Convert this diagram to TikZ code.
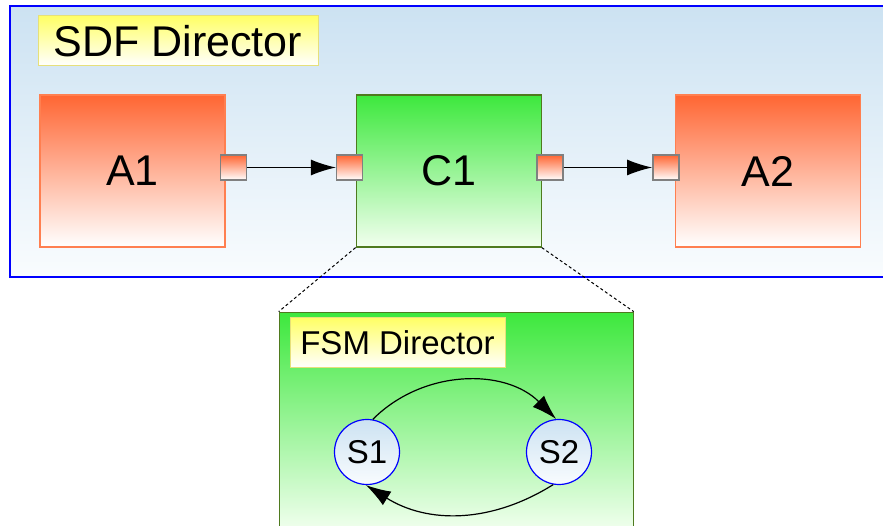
\documentclass[tikz,border=0pt]{standalone}
\usepackage{fontspec}
\setmainfont{Liberation Sans}
\usetikzlibrary{shapes, arrows.meta, calc, positioning}
\definecolor{sdfblue}{HTML}{0000FF}
\definecolor{sdftop}{HTML}{CCE2F2}
\definecolor{sdfbot}{HTML}{F9FCFE}
\definecolor{actortop}{HTML}{FF6633}
\definecolor{actorline}{HTML}{FF7F50}
\definecolor{comptop}{HTML}{3DE83D}
\definecolor{compbot}{HTML}{F2FFEF}
\definecolor{compline}{HTML}{4F7A1F}
\definecolor{labeltop}{HTML}{FFFF66}
\definecolor{labelline}{HTML}{E6E07A}
\tikzstyle{line} = [draw, line width=1.2pt, -{Latex[length=25pt,width=16pt]}]
\tikzstyle{zoomline} = [draw, line width=1pt, dash pattern=on 3pt off 2.5pt]
\tikzstyle{frame} = [rectangle, draw=sdfblue, line width=1.5pt, top color=sdftop, bottom color=sdfbot, minimum width=885pt, minimum height=271pt]
\tikzstyle{actor} = [rectangle, draw=actorline, line width=1.2pt, top color=actortop, bottom color=white, minimum width=185pt, minimum height=152pt, font=\fontsize{43}{50}\selectfont]
\tikzstyle{composite} = [actor, draw=compline, top color=comptop, bottom color=compbot]
\tikzstyle{port} = [rectangle, draw=gray, line width=1.5pt, top color=actortop, bottom color=white, minimum width=26pt, minimum height=25pt, inner sep=0pt]
\tikzstyle{dirlabel} = [rectangle, draw=labelline, line width=1pt, top color=labeltop, bottom color=white, minimum height=50pt, inner sep=0pt]
\tikzstyle{state} = [circle, draw=sdfblue, line width=1.2pt, top color=sdftop, bottom color=sdfbot, minimum size=65pt, inner sep=0pt, font=\fontsize{33}{40}\selectfont]

\begin{document}
\begin{tikzpicture}[x=1pt, y=1pt]
\useasboundingbox (0,0) rectangle (883,526);
\clip (0,0) rectangle (883,526);
\node [frame] (sdf) at (452.5,384.5) {};
\node [dirlabel, minimum width=280pt, font=\fontsize{43}{50}\selectfont] (sdflabel) at (178,485) {SDF Director};
\node [actor] (A1) at (132.5,355) {A1};
\node [composite, right=130pt of A1] (C1) {C1};
\node [actor, right=133pt of C1] (A2) {A2};
\node [port, xshift=8pt, yshift=3.5pt] (a1out) at (A1.east) {};
\node [port, xshift=-6pt, yshift=3.5pt] (c1in) at (C1.west) {};
\node [port, xshift=8pt, yshift=3.5pt] (c1out) at (C1.east) {};
\node [port, xshift=-9pt, yshift=3.5pt] (a2in) at (A2.west) {};
\node [composite, below=64pt of C1, xshift=7.5pt, minimum width=354pt, minimum height=219pt, line width=1pt] (fsm) {};
\node [dirlabel, minimum width=215pt, font=\fontsize{33}{40}\selectfont] (fsmlabel) at (397.5,183) {FSM Director};
\node [state] (S1) at (367,74) {S1};
\node [state] (S2) at (559,74) {S2};
\path [line] (a1out) -- (c1in);
\path [line] (c1out) -- (a2in);
\path [zoomline] (C1.south west) -- (fsm.north west);
\path [zoomline] (C1.south east) -- (fsm.north east);
\path [line] (S1.80) to[out=45, in=135] (S2.95);
\path [line] (S2.260) to[out=212, in=328] (S1.268);
\end{tikzpicture}
\end{document}
